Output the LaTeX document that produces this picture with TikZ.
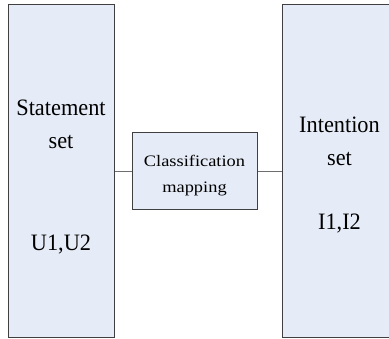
\documentclass[tikz,border=0pt]{standalone}
\usepackage{fontspec}
\setmainfont[FakeStretch=0.95]{Liberation Serif}
\newfontfamily\mapfont[FakeStretch=1.15]{Liberation Serif}
\usetikzlibrary{positioning}

\definecolor{setfill}{RGB}{230,236,247}
\definecolor{setdraw}{RGB}{64,64,64}
\definecolor{linkgray}{RGB}{110,110,110}

\newcommand{\topgap}[1]{\rule{0pt}{#1}}

\tikzset{
	setbox/.style={draw=setdraw, fill=setfill, line width=1pt, align=center,
		inner sep=0pt, font=\fontsize{23.5}{33}\selectfont},
	mapbox/.style={draw=setdraw, fill=setfill, line width=1pt, align=center,
		inner sep=0pt, minimum width=125pt, minimum height=77pt,
		font=\mapfont\fontsize{16}{26}\selectfont},
	link/.style={draw=linkgray, line width=1.2pt}
}

\begin{document}
\begin{tikzpicture}[x=1pt,y=1pt]
				\useasboundingbox (0,0) rectangle (389,339);
				\node[setbox, minimum width=106pt, minimum height=333pt] (statement) at (61,167.5)
					{\topgap{27pt}Statement\\set\\[69pt]U1,U2};
				\node[mapbox] (mapping) at (194.5,167.5) {\topgap{19pt}Classification\\mapping};
				\node[setbox, minimum width=115pt, minimum height=333pt] (intention) at (339.5,167.5)
					{\topgap{22pt}Intention\\set\\[31pt]I1,I2};

				\draw[link]
				(statement) -- (mapping)
				(mapping) -- (intention)
				;
			\end{tikzpicture}
\end{document}
